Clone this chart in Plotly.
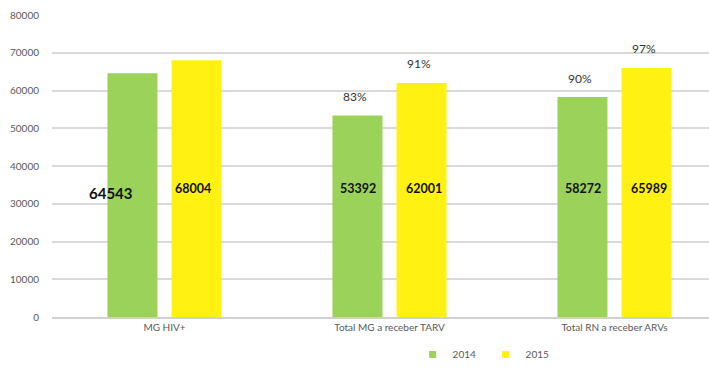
import plotly.graph_objects as go

categories = ["MG HIV+", "Total MG a receber TARV", "Total RN a receber ARVs"]
values_2014 = [64543, 53392, 58272]
values_2015 = [68004, 62001, 65989]
pct_2014 = ["", "83%", "90%"]
pct_2015 = ["", "91%", "97%"]
y_ticks = [0, 10000, 20000, 30000, 40000, 50000, 60000, 70000, 80000]

GREEN = "#9ad25a"
YELLOW = "#fff212"
FONT = "Lato, 'Open Sans', sans-serif"

fig = go.Figure()
fig.add_trace(go.Bar(name="2014", x=categories, y=values_2014, marker_color=GREEN,
                     marker_line_width=0, showlegend=False))
fig.add_trace(go.Bar(name="2015", x=categories, y=values_2015, marker_color=YELLOW,
                     marker_line_width=0, showlegend=False))

# compact legend entries with small square swatches
for name, col in (("2014", GREEN), ("2015", YELLOW)):
    fig.add_trace(go.Scatter(name=name, x=[None], y=[None], mode="markers",
                             marker=dict(symbol="square", size=7, color=col)))

annotations = []
label_y = 34000
for i, cat in enumerate(categories):
    for vals, pcts, dx in ((values_2014, pct_2014, -32), (values_2015, pct_2015, 32)):
        big = (i == 0 and dx < 0)
        annotations.append(dict(
            x=cat, y=label_y - (1200 if big else 0), xref="x", yref="y",
            text=f"<b>{vals[i]}</b>", showarrow=False,
            xshift=dx - (22 if big else 0) + (0 if dx < 0 else -4 if i == 0 else 2),
            font=dict(size=15 if big else 12.5, color="#111111", family=FONT)))
        if pcts[i]:
            annotations.append(dict(
                x=cat, y=vals[i], xref="x", yref="y", text=pcts[i], showarrow=False,
                xshift=dx - 3, yshift=19, yanchor="middle",
                font=dict(size=12, color="#333333", family=FONT)))

fig.update_layout(
    width=709, height=369,
    margin=dict(l=52, r=0, t=15, b=49),
    paper_bgcolor="white", plot_bgcolor="white",
    barmode="group", bargap=0.43, bargroupgap=0.22,
    font=dict(family=FONT, color="#595959", size=10),
    xaxis=dict(range=[-0.5, 2.42], showgrid=False, showline=True,
               linecolor="#d0d0d0", linewidth=1.5, ticks="",
               tickfont=dict(size=10, color="#595959")),
    yaxis=dict(range=[0, 80000], tickvals=y_ticks,
               ticktext=[str(v) for v in y_ticks], showgrid=True,
               gridcolor="#d9d9d9", gridwidth=1.5, zeroline=False,
               ticks="outside", ticklen=10, tickcolor="white",
               tickfont=dict(size=10, color="#595959")),
    legend=dict(orientation="h", x=0.66, xanchor="center", y=-0.125, yanchor="middle",
                font=dict(size=10, color="#595959"), itemwidth=30,
                entrywidth=28, traceorder="normal"),
    annotations=annotations,
)

fig.write_html("out.html")
